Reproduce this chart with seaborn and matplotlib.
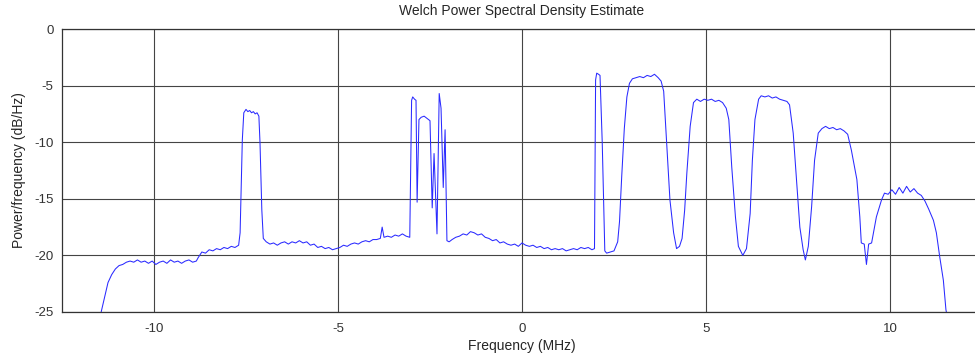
import numpy as np
import pandas as pd
import matplotlib
matplotlib.use("Agg")
import matplotlib.pyplot as plt
import seaborn as sns

# values (MHz, dB/Hz)
freq_mhz = [
    # lower band edge + floor
    -11.45, -11.35, -11.25, -11.15, -11.05, -10.95, -10.85, -10.75, -10.65,
    -10.55, -10.45, -10.35, -10.25, -10.15, -10.05, -9.95, -9.85, -9.75, -9.65,
    -9.55, -9.45, -9.35, -9.25, -9.15, -9.05, -8.95, -8.85, -8.8,
    -8.7, -8.6, -8.5, -8.4, -8.3, -8.2, -8.1, -8.0, -7.9, -7.8, -7.7,
    # carrier near -7.4
    -7.66, -7.6, -7.56, -7.5, -7.45, -7.4, -7.35, -7.3, -7.25, -7.2, -7.15,
    -7.12, -7.07, -7.03,
    -6.95, -6.85, -6.75, -6.65, -6.55, -6.45, -6.35, -6.25, -6.15, -6.05,
    -5.95, -5.85, -5.75, -5.65, -5.55, -5.45, -5.35, -5.25, -5.15, -5.05,
    -4.95, -4.85, -4.75, -4.65, -4.55, -4.45, -4.35, -4.25, -4.15, -4.05,
    -3.95, -3.85, -3.8, -3.75, -3.65, -3.55, -3.45, -3.35, -3.25, -3.15, -3.05,
    # narrow carriers around -2.5
    -3.0, -2.97, -2.92, -2.88, -2.85, -2.8, -2.74, -2.66, -2.58, -2.5, -2.44,
    -2.39, -2.31, -2.25, -2.2, -2.14, -2.09, -2.04,
    -1.98, -1.9, -1.8, -1.7, -1.6, -1.5, -1.4, -1.3, -1.2, -1.1, -1.0, -0.9,
    -0.8, -0.7, -0.6, -0.5, -0.4, -0.3, -0.2, -0.1, 0.0, 0.1, 0.2, 0.3, 0.4,
    0.5, 0.6, 0.7, 0.8, 0.9, 1.0, 1.1, 1.2, 1.3, 1.4, 1.5, 1.6, 1.7, 1.8,
    1.9, 1.97,
    # carrier at 2.05
    2.0, 2.03, 2.08, 2.12, 2.18, 2.25, 2.3, 2.4, 2.5,
    # wide carriers
    2.6, 2.65, 2.71, 2.78, 2.85, 2.92, 3.0, 3.1, 3.2, 3.3, 3.4, 3.5, 3.6,
    3.7, 3.78, 3.85, 3.93, 4.02, 4.12, 4.2, 4.28, 4.35, 4.42, 4.48, 4.57,
    4.66, 4.75, 4.85, 4.95, 5.05, 5.15, 5.25, 5.35, 5.45, 5.55, 5.62, 5.7,
    5.8, 5.88, 6.0, 6.1, 6.2, 6.26, 6.33, 6.43, 6.5, 6.6, 6.7, 6.8, 6.9, 7.0,
    7.1, 7.2, 7.27, 7.37, 7.46, 7.55, 7.64, 7.7, 7.78, 7.87, 7.95, 8.05, 8.15,
    8.25, 8.35, 8.45, 8.55, 8.65, 8.75, 8.85, 8.95, 9.1, 9.18, 9.22, 9.3,
    9.36, 9.42, 9.5, 9.63, 9.77, 9.85, 9.95, 10.05, 10.15, 10.25, 10.35,
    10.45, 10.55, 10.65, 10.75, 10.85, 10.95, 11.05, 11.18, 11.26, 11.35,
    11.45, 11.52, 11.56,
]

psd_db = [
    -25.2, -23.8, -22.4, -21.7, -21.2, -20.9, -20.8, -20.6, -20.5,
    -20.6, -20.4, -20.6, -20.5, -20.7, -20.5, -20.8, -20.6, -20.5, -20.7,
    -20.4, -20.6, -20.5, -20.7, -20.5, -20.4, -20.6, -20.5, -20.2,
    -19.7, -19.8, -19.5, -19.6, -19.4, -19.5, -19.3, -19.4, -19.2, -19.3, -19.1,
    -18.0, -9.8, -7.4, -7.1, -7.3, -7.2, -7.4, -7.3, -7.5, -7.4, -7.7,
    -10.0, -16.0, -18.5,
    -18.8, -19.0, -18.9, -19.1, -18.9, -18.8, -19.0, -18.8, -18.9, -18.7,
    -18.9, -18.8, -19.1, -19.0, -19.3, -19.2, -19.4, -19.3, -19.5, -19.4,
    -19.3, -19.1, -19.2, -19.0, -18.9, -19.0, -18.8, -18.7, -18.8, -18.6,
    -18.6, -18.5, -17.5, -18.4, -18.3, -18.4, -18.2, -18.3, -18.1, -18.3, -18.4,
    -6.3, -6.0, -6.2, -6.3, -15.3, -8.0, -7.8, -7.7, -7.9, -8.1, -15.8,
    -11.0, -18.1, -5.7, -7.0, -14.0, -8.9, -18.7,
    -18.8, -18.6, -18.4, -18.3, -18.1, -18.2, -17.9, -18.0, -18.2, -18.1, -18.4, -18.5,
    -18.7, -18.6, -18.9, -18.8, -19.0, -19.1, -19.0, -19.2, -18.9, -19.1, -19.2, -19.1, -19.3,
    -19.2, -19.4, -19.3, -19.5, -19.4, -19.5, -19.4, -19.6, -19.5, -19.4, -19.5, -19.3, -19.4, -19.3,
    -19.5, -19.4,
    -4.5, -3.9, -4.0, -4.1, -10.0, -19.6, -19.8, -19.7, -19.6,
    -18.8, -17.0, -13.0, -8.8, -6.0, -4.8, -4.4, -4.3, -4.2, -4.3, -4.1, -4.2, -4.0,
    -4.3, -4.6, -5.5, -10.0, -15.1, -18.0, -19.4, -19.2, -18.5, -16.0, -12.7, -8.6,
    -6.5, -6.2, -6.4, -6.2, -6.3, -6.2, -6.4, -6.3, -6.5, -7.0, -8.0, -12.2,
    -16.6, -19.2, -20.0, -19.4, -16.3, -11.6, -8.0, -6.2, -5.9, -6.0, -5.9, -6.1, -6.0, -6.2,
    -6.3, -6.4, -6.7, -9.2, -13.3, -17.5, -19.5, -20.4, -19.2, -15.7, -11.6, -9.2, -8.8,
    -8.6, -8.8, -8.7, -8.9, -8.8, -9.0, -9.3, -10.7, -13.3, -16.6, -18.9, -19.0,
    -20.8, -19.0, -18.9, -16.6, -15.1, -14.5, -14.6, -14.2, -14.6, -14.0, -14.5,
    -13.9, -14.4, -14.1, -14.5, -14.7, -15.2, -15.9, -16.9, -18.0, -20.1,
    -22.2, -24.8, -25.5,
]

x_ticks = [-10, -5, 0, 5, 10]
y_ticks = [0, -5, -10, -15, -20, -25]

df = pd.DataFrame({"freq": freq_mhz, "psd": psd_db})

sns.set_style("white")
plt.rcParams["font.family"] = ["Liberation Sans", "DejaVu Sans"]
plt.rcParams["axes.unicode_minus"] = False

fig = plt.figure(figsize=(9.75, 3.55), dpi=100)
ax = fig.add_axes([62 / 975, 1 - 312 / 355, 920 / 975, 283 / 355])

sns.lineplot(data=df, x="freq", y="psd", ax=ax, sort=False, estimator=None,
             color="#2a2aff", linewidth=0.75)

ax.set_xlim(-12.5, 12.5)
ax.set_ylim(-25, 0)
ax.set_xticks(x_ticks)
ax.set_yticks(y_ticks)
ax.grid(True, color="#444444", linewidth=0.8)
ax.tick_params(direction="in", length=3, labelsize=9.5, colors="#333333")
ax.tick_params(axis="x", pad=8)
ax.tick_params(axis="y", pad=6)
for s in ax.spines.values():
    s.set_color("#333333")
    s.set_linewidth(0.9)

ax.set_title("Welch Power Spectral Density Estimate", fontsize=10, pad=10)
ax.set_xlabel("Frequency (MHz)", fontsize=10, labelpad=3)
ax.set_ylabel("Power/frequency (dB/Hz)", fontsize=10, labelpad=6)

fig.savefig("out.png", dpi=100)
